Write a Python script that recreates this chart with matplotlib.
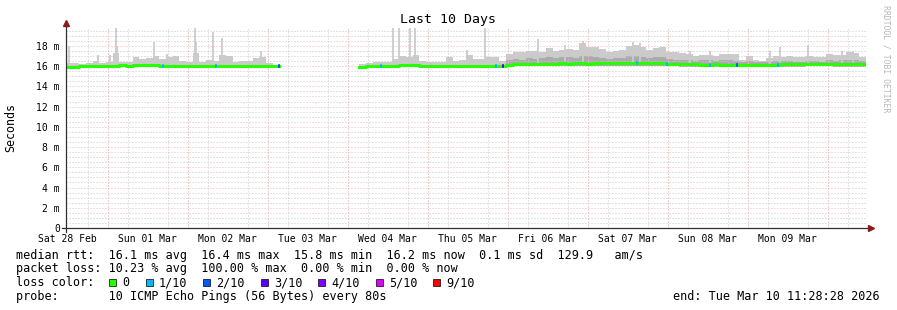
import numpy as np
import matplotlib
matplotlib.use("Agg")
import matplotlib.pyplot as plt
import matplotlib.dates as mdates
from matplotlib.ticker import MultipleLocator, FuncFormatter
from matplotlib.patches import Rectangle
from datetime import datetime, timedelta

plt.rcParams["font.family"] = "DejaVu Sans Mono"

W, H = 897, 310
start = datetime(2026, 2, 28, 11, 28, 28)
end = datetime(2026, 3, 10, 11, 28, 28)
nan = np.nan

# 2-hour bins from start, values in ms
median = [
    15.9, 15.95, 16.0, 16.0, 16.0, 16.0, 16.05, 16.05, 16.1, 16.05,
    16.1, 16.1, 16.1, 16.1, 16.05, 16.05, 16.0, 16.0, 16.0, 16.0,
    16.05, 16.05, 16.05, 16.05, 16.0, 16.0, 16.0, 16.0, 16.0, 16.0,
    16.0, 16.0, nan, nan, nan, nan, nan, nan, nan, nan,
    nan, nan, nan, nan, 15.95, 16.0, 16.0, 16.0, 16.05, 16.05,
    16.1, 16.1, 16.1, 16.05, 16.0, 16.0, 16.0, 16.0, 16.0, 16.0,
    16.05, 16.05, 16.05, 16.05, 16.0, 16.0, 16.15, 16.2, 16.2, 16.2,
    16.25, 16.2, 16.25, 16.25, 16.3, 16.25, 16.3, 16.3, 16.25, 16.3,
    16.35, 16.3, 16.3, 16.3, 16.35, 16.35, 16.3, 16.3, 16.3, 16.3,
    16.25, 16.25, 16.2, 16.2, 16.2, 16.15, 16.15, 16.2, 16.15, 16.15,
    16.15, 16.1, 16.1, 16.1, 16.15, 16.15, 16.15, 16.2, 16.2, 16.2,
    16.2, 16.25, 16.25, 16.25, 16.25, 16.2, 16.2, 16.2, 16.2, 16.2,
]
smoke_hi = [
    16.3, 16.3, 16.25, 16.3, 16.5, 16.35, 16.4, 17.3, 16.4, 16.45,
    16.9, 16.7, 16.75, 17.0, 16.7, 16.9, 17.0, 16.5, 16.45, 17.3,
    16.4, 16.6, 16.55, 17.05, 17.0, 16.45, 16.55, 16.55, 16.8, 16.85,
    16.35, 16.7, nan, nan, nan, nan, nan, nan, nan, nan,
    nan, nan, nan, nan, 16.25, 16.35, 16.4, 16.45, 16.4, 16.7,
    17.0, 16.85, 17.05, 16.55, 16.4, 16.4, 16.45, 16.85, 16.55, 16.6,
    17.05, 16.7, 16.7, 16.9, 16.85, 16.5, 17.2, 17.4, 17.35, 17.5,
    17.45, 17.4, 17.8, 17.5, 17.6, 17.7, 17.6, 18.3, 17.9, 17.9,
    17.7, 17.35, 17.5, 17.6, 18.0, 18.1, 17.9, 17.6, 17.8, 17.85,
    17.4, 17.35, 17.3, 17.2, 17.0, 17.05, 17.1, 17.0, 17.2, 17.15,
    17.2, 16.6, 17.0, 16.6, 16.55, 16.8, 17.0, 16.9, 16.95, 16.9,
    16.85, 17.0, 16.9, 16.85, 17.2, 17.05, 17.1, 17.4, 17.3, 16.9,
]
smoke_lo = [
    15.8, 15.85, 15.9, 15.9, 15.9, 15.9, 15.95, 15.95, 15.95, 15.95,
    15.95, 15.95, 15.95, 15.95, 15.9, 15.9, 15.9, 15.9, 15.9, 15.9,
    15.9, 15.95, 15.9, 15.9, 15.9, 15.9, 15.9, 15.9, 15.9, 15.9,
    15.9, 15.9, nan, nan, nan, nan, nan, nan, nan, nan,
    nan, nan, nan, nan, 15.8, 15.9, 15.9, 15.9, 15.9, 15.9,
    15.95, 15.95, 15.95, 15.9, 15.9, 15.9, 15.9, 15.9, 15.9, 15.9,
    15.9, 15.9, 15.9, 15.9, 15.9, 15.9, 15.95, 16.0, 16.0, 16.0,
    16.0, 16.0, 16.0, 16.0, 16.05, 16.0, 16.0, 16.05, 16.0, 16.0,
    16.05, 16.0, 16.0, 16.0, 16.05, 16.05, 16.0, 16.0, 16.0, 16.0,
    16.0, 16.0, 15.95, 15.95, 15.95, 15.9, 15.9, 15.95, 15.9, 15.9,
    15.9, 15.9, 15.9, 15.9, 15.9, 15.95, 15.95, 15.95, 15.95, 15.95,
    15.95, 16.0, 16.0, 16.0, 16.0, 15.95, 15.95, 15.95, 15.95, 15.95,
]
# darker inner smoke band (top), only in the busier period
smoke_mid = [nan] * 66 + [
    16.6, 16.7, 16.65, 16.8,
    16.7, 16.75, 16.9, 16.8, 16.85, 16.9, 16.8, 17.0, 16.95, 16.9,
    16.8, 16.7, 16.75, 16.8, 16.95, 17.0, 16.9, 16.8, 16.85, 16.9,
    16.7, 16.65, 16.6, 16.6, 16.55, 16.6, 16.6, 16.55, 16.6, 16.6,
    16.55, 16.4, 16.5, 16.4, 16.4, 16.45, 16.5, 16.5, 16.5, 16.45,
    16.45, 16.5, 16.5, 16.45, 16.6, 16.55, 16.6, 16.65, 16.6, 16.5,
]

# single-sample outliers (hours after start, ms)
spike_hours = [0.9, 9.6, 13.2, 15.0, 15.3, 26.4, 30.3, 38.7, 39.0, 44.1,
               46.8, 58.5, 98.1, 99.9, 103.2, 104.7, 120.3, 125.7, 141.6, 149.7,
               155.1, 170.1, 172.2, 187.2, 193.2, 211.2, 214.2, 222.6, 232.8, 236.1]
spike_ms = [18.0, 17.1, 17.05, 19.75, 18.0, 18.4, 17.2, 19.75, 18.4, 19.35,
            18.75, 17.5, 19.75, 19.75, 19.75, 19.75, 17.6, 19.75, 18.7, 18.1,
            18.5, 18.4, 18.3, 17.5, 17.5, 17.5, 17.9, 18.1, 17.5, 17.5]

# packet loss events (hours after start, loss level index)
loss_hours = [29.1, 45.0, 63.9, 94.5, 129.0, 131.1, 171.3, 180.3, 193.2, 201.3, 213.6]
loss_level = [1, 1, 2, 1, 1, 3, 1, 1, 1, 2, 1]

loss_labels = ["0", "1/10", "2/10", "3/10", "4/10", "5/10", "9/10"]
loss_colors = ["#26ff00", "#00b8ff", "#0059ff", "#5e00ff", "#7e00ff", "#dd00ff", "#ff0000"]

rtt_line = "median rtt:  16.1 ms avg  16.4 ms max  15.8 ms min  16.2 ms now  0.1 ms sd  129.9   am/s"
loss_line = "packet loss: 10.23 % avg  100.00 % max  0.00 % min  0.00 % now"
probe_line = "probe:       10 ICMP Echo Pings (56 Bytes) every 80s"
end_line = "end: Tue Mar 10 11:28:28 2026"

fig = plt.figure(figsize=(W / 100, H / 100), dpi=100)
ax = fig.add_axes([66 / W, (H - 228) / H, 800 / W, 201 / H])

n = len(median)
edges = [start + timedelta(hours=2 * i) for i in range(n + 1)]
pad = lambda a: np.append(np.array(a, dtype=float), a[-1])

light, dark = "#cbcbcb", "#ababab"
ax.fill_between(edges, pad(smoke_lo), pad(smoke_hi), step="post", color=light, lw=0, zorder=1)
ax.fill_between(edges, pad(smoke_lo), pad(smoke_mid), step="post", color=dark, lw=0, zorder=1.1)
spike_t = [start + timedelta(hours=h) for h in spike_hours]
spike_base = [median[int(h // 2)] for h in spike_hours]
ax.vlines(spike_t, spike_base, spike_ms, color=light, lw=1.3, zorder=1.2)

ax.step(edges, pad(median), where="post", color=loss_colors[0], lw=2.2, zorder=3)
for h, lv in zip(loss_hours, loss_level):
    t0 = start + timedelta(hours=h - 0.4)
    t1 = start + timedelta(hours=h + 0.4)
    ax.hlines(median[int(h // 2)], t0, t1, color=loss_colors[lv], lw=2.6, zorder=3.1)

ax.set_xlim(start, end)
ax.set_ylim(0, 201 / 10.12)

# grid
dot = (0, (1, 2))
red = "#f6b8b8"
ax.yaxis.set_major_locator(MultipleLocator(2))
ax.yaxis.set_minor_locator(MultipleLocator(0.5))
ax.yaxis.set_major_formatter(FuncFormatter(lambda v, p: "0" if v == 0 else f"{v:.0f} m"))
ax.xaxis.set_major_locator(mdates.HourLocator(byhour=12))
ax.xaxis.set_major_formatter(mdates.DateFormatter("%a %d %b"))
ax.xaxis.set_minor_locator(mdates.HourLocator(byhour=[0, 6, 12, 18]))
ax.set_axisbelow(False)
ax.grid(which="minor", color="#c8c8c8", ls=dot, lw=0.72)
ax.grid(which="major", axis="y", color=red, ls=dot, lw=0.72)
ax.grid(which="major", axis="x", visible=False)
midnights = mdates.DayLocator().tick_values(start, end)
ax.vlines(midnights, 0, 1, transform=ax.get_xaxis_transform(),
          color=red, ls=dot, lw=0.72, zorder=2.6)

for s in ax.spines.values():
    s.set_visible(False)
ax.tick_params(which="both", length=0, labelsize=7, colors="black")
ax.tick_params(axis="y", pad=4.5)
ax.tick_params(axis="x", pad=4)

# axes with arrows
ax.plot([0, 0], [-4 / 201, 1.02], transform=ax.transAxes, clip_on=False, color="#303030", lw=0.9, zorder=5)
ax.plot([-4 / 800, 1.005], [0, 0], transform=ax.transAxes, clip_on=False, color="#303030", lw=0.9, zorder=5)
ax.plot([0], [1.022], marker="^", ms=4.5, color="#8b1c1c", transform=ax.transAxes, clip_on=False, zorder=6)
ax.plot([1.006], [0], marker=">", ms=4.5, color="#8b1c1c", transform=ax.transAxes, clip_on=False, zorder=6)

fig.text(448 / W, 1 - 20 / H, "Last 10 Days", fontsize=9.5, ha="center", va="center")
fig.text(11 / W, 1 - 127 / H, "Seconds", fontsize=8.4, rotation=90, ha="center", va="center")
fig.text(886 / W, 1 - 59 / H, "RRDTOOL / TOBI OETIKER", fontsize=5.9, rotation=270,
         color="#b8b8b8", ha="center", va="center")

# legend block
rows = [255, 268.5, 282.5, 296.5]
fs = 8.5
fig.text(16 / W, 1 - rows[0] / H, rtt_line, fontsize=fs, va="center")
fig.text(16 / W, 1 - rows[1] / H, loss_line, fontsize=fs, va="center")
fig.text(16 / W, 1 - rows[2] / H, "loss color:", fontsize=fs, va="center")
fig.text(16 / W, 1 - rows[3] / H, probe_line, fontsize=fs, va="center")
fig.text(880 / W, 1 - rows[3] / H, end_line, fontsize=fs, va="center", ha="right")
box_x = [109, 146, 203, 261, 318, 376, 433]
for bx, lab, col in zip(box_x, loss_labels, loss_colors):
    fig.add_artist(Rectangle((bx / W, 1 - 286 / H), 7 / W, 7 / H, transform=fig.transFigure,
                             facecolor=col, edgecolor="black", lw=0.5))
    fig.text((bx + 13) / W, 1 - rows[2] / H, lab, fontsize=fs, va="center")

fig.savefig("out.png", dpi=100)
